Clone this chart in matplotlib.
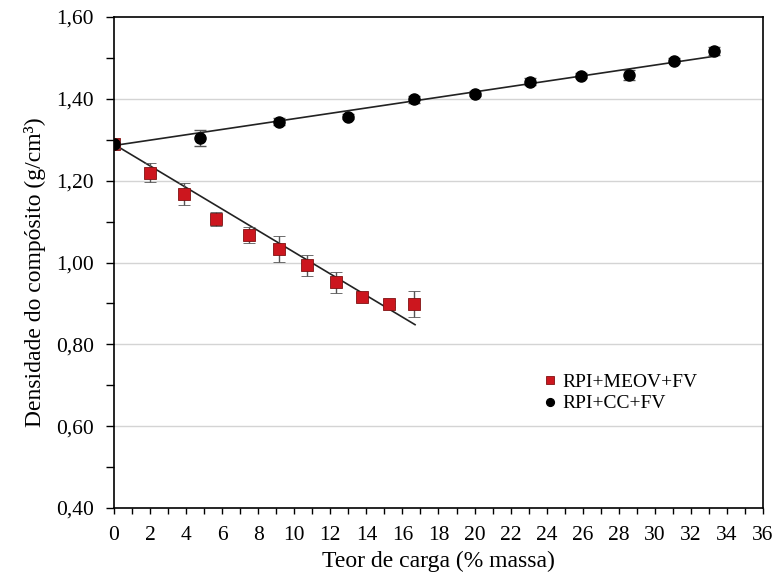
import numpy as np
import matplotlib
matplotlib.use("Agg")
import matplotlib.pyplot as plt
from matplotlib.ticker import MultipleLocator, FuncFormatter

plt.rcParams['font.family'] = ['Liberation Serif', 'DejaVu Serif']

# RPI+MEOV+FV (red squares)
x_meov = [0, 2.0, 3.88, 5.68, 7.47, 9.13, 10.73, 12.30, 13.78, 15.27, 16.65]
y_meov = [1.289, 1.220, 1.168, 1.107, 1.067, 1.033, 0.993, 0.952, 0.915, 0.899, 0.899]
e_meov = [0.008, 0.024, 0.027, 0.017, 0.019, 0.031, 0.026, 0.026, 0.010, 0.008, 0.031]

# RPI+CC+FV (black circles)
x_cc = [0, 4.77, 9.13, 13.0, 16.64, 20.04, 23.07, 25.92, 28.58, 31.06, 33.30]
y_cc = [1.289, 1.305, 1.344, 1.356, 1.399, 1.413, 1.442, 1.456, 1.458, 1.493, 1.517]
e_cc = [0.008, 0.020, 0.008, 0.006, 0.008, 0.006, 0.008, 0.006, 0.012, 0.006, 0.010]

# trend lines (intercept, slope, x range)
fit_meov = (1.289, -0.0264, 16.7)
fit_cc = (1.286, 0.00655, 33.3)

fig = plt.figure(figsize=(7.78, 5.81), dpi=100)
ax = fig.add_axes([0.1465, 0.1256, 0.8342, 0.8451])

for y in [0.6, 0.8, 1.0, 1.2, 1.4]:
    ax.axhline(y, color='#d4d4d4', lw=1.0, zorder=0)

# trend lines
xs = np.array([0, fit_meov[2]])
ax.plot(xs, fit_meov[0] + fit_meov[1] * xs, color='#222222', lw=1.2, zorder=2)
xs = np.array([0, fit_cc[2]])
ax.plot(xs, fit_cc[0] + fit_cc[1] * xs, color='#222222', lw=1.2, zorder=2)

ax.errorbar(x_meov, y_meov, yerr=e_meov, fmt='s', color='#cc161e', mec='#801212',
            mew=0.6, ms=8.5, ecolor='#555555', elinewidth=1.0, capsize=4,
            capthick=1.0, zorder=3, label='RPI+MEOV+FV')
ax.errorbar(x_cc, y_cc, yerr=e_cc, fmt='o', color='black', ms=8,
            ecolor='#555555', elinewidth=1.0, capsize=4, capthick=1.0,
            zorder=4, label='RPI+CC+FV')

ax.set_xlim(0, 36)
ax.set_ylim(0.4, 1.6)
ax.xaxis.set_major_locator(MultipleLocator(2))
ax.xaxis.set_minor_locator(MultipleLocator(1))
ax.yaxis.set_major_locator(MultipleLocator(0.2))
ax.yaxis.set_minor_locator(MultipleLocator(0.1))
ax.yaxis.set_major_formatter(FuncFormatter(lambda v, p: f'{v:.2f}'.replace('.', ',')))
ax.tick_params(which='both', direction='out', width=1.0, labelsize=15.5)
ax.tick_params(axis='x', which='both', length=4, pad=9)
ax.tick_params(axis='y', which='both', length=5.5, pad=9)

for s in ax.spines.values():
    s.set_linewidth(1.2)

ax.set_xlabel('Teor de carga (% massa)', fontsize=17, labelpad=4)
ax.set_ylabel('Densidade do compósito (g/cm³)', fontsize=17, labelpad=9)
ax.yaxis.set_label_coords(-0.105, 0.48)

handles, labels = ax.get_legend_handles_labels()
handles = [h[0] for h in handles]
ax.legend(handles, labels, loc='upper left', bbox_to_anchor=(0.63, 0.31),
          frameon=False, fontsize=14, handletextpad=0.15, handlelength=1.0,
          labelspacing=0.2, markerscale=0.7)

fig.savefig('out.png', dpi=100)
